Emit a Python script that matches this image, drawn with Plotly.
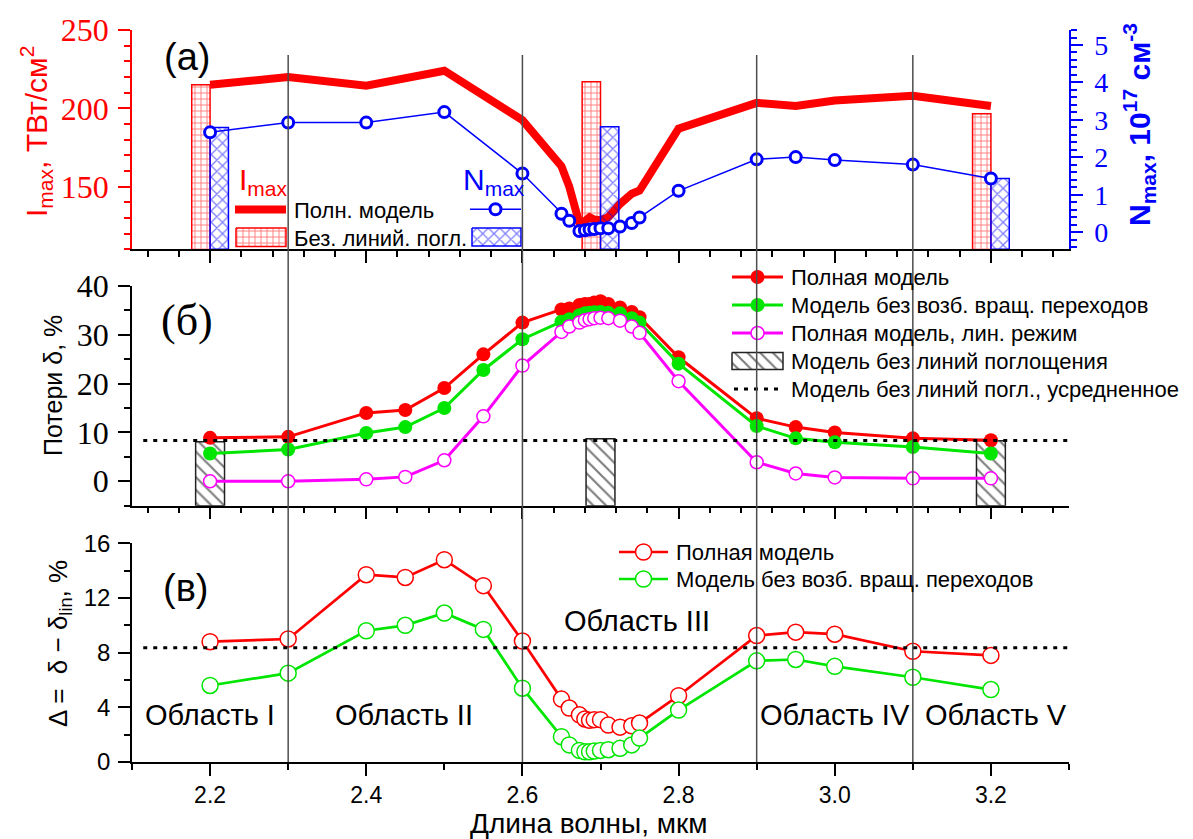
import plotly.graph_objects as go

# ======================= DATA =======================
# Panel (а): maximum intensity and maximum electron density
wl_a = [2.2, 2.3, 2.4, 2.5, 2.6, 2.65, 2.66, 2.673, 2.68, 2.686, 2.692,
        2.70, 2.71, 2.725, 2.74, 2.75, 2.8, 2.9, 2.95, 3.0, 3.1, 3.2]
i_max_full = [215, 220, 214.5, 224, 192.5, 163, 150, 126.5, 128, 130.5, 129,
              128.5, 130.5, 139, 145.5, 147.5, 187, 203.5, 201.5, 205, 208, 201.5]
n_max_full = [2.67, 2.93, 2.93, 3.21, 1.57, 0.50, 0.31, 0.04, 0.06, 0.08, 0.09,
              0.11, 0.11, 0.16, 0.25, 0.40, 1.11, 1.95, 2.01, 1.93, 1.81, 1.44]
wl_nolines = [2.2, 2.7, 3.2]
i_max_nolines = [215, 217, 196.5]
n_max_nolines = [2.80, 2.82, 1.44]

# Panel (б): losses delta, %
wl_b = [2.2, 2.3, 2.4, 2.45, 2.5, 2.55, 2.6, 2.65, 2.66, 2.673, 2.68, 2.686,
        2.692, 2.70, 2.71, 2.725, 2.74, 2.75, 2.8, 2.9, 2.95, 3.0, 3.1, 3.2]
loss_full = [8.9, 9.1, 14.0, 14.6, 19.1, 26.0, 32.5, 35.2, 35.4, 36.1, 36.3, 36.3,
             36.6, 36.9, 36.3, 35.6, 34.7, 33.6, 25.4, 12.9, 11.1, 10.0, 8.8, 8.4]
loss_norot = [5.7, 6.5, 9.9, 11.1, 15.0, 22.8, 29.1, 32.7, 33.2, 34.0, 34.4, 34.5,
              34.6, 34.7, 34.5, 34.4, 33.4, 32.5, 24.1, 11.3, 8.8, 8.0, 7.0, 5.7]
loss_lin = [0.0, 0.0, 0.4, 0.9, 4.3, 13.3, 23.7, 30.6, 31.7, 32.5, 33.0, 33.2,
            33.4, 33.5, 33.4, 32.9, 31.7, 30.4, 20.5, 3.9, 1.6, 0.8, 0.6, 0.6]
loss_nolines = [8.1, 8.7, 8.3]
loss_nolines_avg = 8.35

# Panel (в): Delta = delta - delta_lin, %
delta_full = [8.8, 9.0, 13.7, 13.5, 14.8, 12.9, 8.85, 4.6, 3.95, 3.45, 3.15, 3.05,
              3.1, 3.1, 2.7, 2.55, 2.65, 2.85, 4.85, 9.25, 9.5, 9.35, 8.1, 7.8]
delta_norot = [5.6, 6.5, 9.6, 10.0, 10.9, 9.7, 5.4, 1.85, 1.25, 0.85, 0.75, 0.75,
               0.8, 0.85, 0.9, 1.0, 1.25, 1.75, 3.8, 7.4, 7.5, 7.0, 6.2, 5.3]

region_bounds = [2.3, 2.6, 2.9, 3.1]
region_names = ["Область I", "Область II", "Область III", "Область IV", "Область V"]

# ======================= STYLE / LAYOUT =======================
SANS = "Liberation Sans"
SERIF = "Liberation Serif"
RED, BLUE, GREEN, MAG = "#ff0000", "#0000ff", "#00e600", "#ff00ff"

W, H = 1193, 839
ML, MR, MT, MB = 132, 124, 30, 77
PW, PH = W - ML - MR, H - MT - MB


def pxx(x):
    return (x - ML) / PW


def pxy(y):
    return (H - MB - y) / PH


I_RANGE = [110, 250]
N_RANGE = [-0.45, 5.4]
B_RANGE = [-5, 40]
C_RANGE = [0, 16]
BAR_W_A = 0.0235
BAR_W_B = 0.037

RED_GRID = dict(shape="+", fgcolor=RED, bgcolor="white", size=6, solidity=0.3)
BLUE_X = dict(shape="x", fgcolor=BLUE, bgcolor="rgba(0,0,0,0)", size=8, solidity=0.3)
BLACK_HATCH = dict(shape="\\", fgcolor="black", bgcolor="white", size=9, solidity=0.24)

fig = go.Figure()

# ---------- panel (а) ----------
fig.add_trace(go.Bar(
    x=wl_nolines, y=i_max_nolines, xaxis="x", yaxis="y",
    width=BAR_W_A, offset=-BAR_W_A,
    marker=dict(color="white", line=dict(color=RED, width=1.5), pattern=RED_GRID),
    showlegend=False))
fig.add_trace(go.Scatter(
    x=wl_a, y=i_max_full, xaxis="x", yaxis="y", mode="lines",
    line=dict(color=RED, width=8), showlegend=False))
fig.add_trace(go.Bar(
    x=wl_nolines, y=[v - N_RANGE[0] for v in n_max_nolines], base=N_RANGE[0],
    xaxis="x", yaxis="y2", width=BAR_W_A, offset=0,
    marker=dict(color="rgba(0,0,0,0)", line=dict(color=BLUE, width=1.5), pattern=BLUE_X),
    showlegend=False))
fig.add_trace(go.Scatter(
    x=wl_a, y=n_max_full, xaxis="x", yaxis="y2", mode="lines+markers",
    line=dict(color=BLUE, width=1.5),
    marker=dict(symbol="circle", size=11, color="white", line=dict(color=BLUE, width=3)),
    showlegend=False))

# ---------- panel (б) ----------
fig.add_trace(go.Bar(
    x=wl_nolines, y=[v - B_RANGE[0] for v in loss_nolines], base=B_RANGE[0],
    xaxis="x2", yaxis="y3", width=BAR_W_B,
    marker=dict(color="white", line=dict(color="#222222", width=1.5), pattern=BLACK_HATCH),
    showlegend=False))
fig.add_trace(go.Scatter(
    x=wl_b, y=loss_full, xaxis="x2", yaxis="y3", mode="lines+markers",
    line=dict(color=RED, width=3), marker=dict(symbol="circle", size=14, color=RED),
    showlegend=False))
fig.add_trace(go.Scatter(
    x=wl_b, y=loss_norot, xaxis="x2", yaxis="y3", mode="lines+markers",
    line=dict(color=GREEN, width=3), marker=dict(symbol="circle", size=14, color=GREEN),
    showlegend=False))
fig.add_trace(go.Scatter(
    x=wl_b, y=loss_lin, xaxis="x2", yaxis="y3", mode="lines+markers",
    line=dict(color=MAG, width=3),
    marker=dict(symbol="circle", size=13, color="white", line=dict(color=MAG, width=1.5)),
    showlegend=False))

# ---------- panel (в) ----------
fig.add_trace(go.Scatter(
    x=wl_b, y=delta_full, xaxis="x3", yaxis="y4", mode="lines+markers",
    line=dict(color=RED, width=2.7),
    marker=dict(symbol="circle", size=16, color="white", line=dict(color=RED, width=1.5)),
    showlegend=False))
fig.add_trace(go.Scatter(
    x=wl_b, y=delta_norot, xaxis="x3", yaxis="y4", mode="lines+markers",
    line=dict(color=GREEN, width=2.7),
    marker=dict(symbol="circle", size=16, color="white", line=dict(color=GREEN, width=1.5)),
    showlegend=False))

# ---------- legend swatches (drawn on a hidden pixel-space overlay axis) ----------
LEG = dict(xaxis="x4", yaxis="y5", showlegend=False, hoverinfo="skip")
annotations = []


def leg_line(x0, x1, y, color, width, dash=None):
    fig.add_trace(go.Scatter(x=[x0, x1], y=[y, y], mode="lines",
                             line=dict(color=color, width=width, dash=dash), **LEG))


def leg_marker(x, y, size, fill, edge, edgew):
    fig.add_trace(go.Scatter(x=[x], y=[y], mode="markers",
                             marker=dict(symbol="circle", size=size, color=fill,
                                         line=dict(color=edge, width=edgew)), **LEG))


def leg_box(x0, x1, y0, y1, pattern, edge, fill="white"):
    fig.add_trace(go.Scatter(x=[x0, x1, x1, x0, x0], y=[y0, y0, y1, y1, y0], mode="lines",
                             fill="toself", fillcolor=fill, fillpattern=pattern,
                             line=dict(color=edge, width=1.5), **LEG))


def leg_text(x, y, text, size=22, color="black", family=SANS):
    annotations.append(dict(x=x, y=y, xref="x4", yref="y5", text=text, showarrow=False,
                            xanchor="left", yanchor="middle",
                            font=dict(family=family, size=size, color=color)))


# panel (а) legend
leg_text(237, 181, "I<sub>max</sub>", size=30, color=RED)
leg_line(235, 286, 209.5, RED, 8)
leg_text(292, 210, "Полн. модель")
leg_box(236, 286, 228, 246.5, RED_GRID, RED)
leg_text(292, 238, "Без. линий. погл.")
leg_text(461, 181, "N<sub>max</sub>", size=30, color=BLUE)
leg_line(470, 521, 209.3, BLUE, 1.5)
leg_marker(495.5, 209.3, 11, "white", BLUE, 3)
leg_box(472, 521, 228, 246, dict(BLUE_X, bgcolor="white"), BLUE)

# panel (б) legend
rows_b = [277, 305, 333, 361, 389]
sx0, sx1, smid, stx = 732, 783, 757.5, 789
leg_line(sx0, sx1, rows_b[0], RED, 3)
leg_marker(smid, rows_b[0], 14, RED, RED, 0)
leg_text(stx, rows_b[0], "Полная модель")
leg_line(sx0, sx1, rows_b[1], GREEN, 3)
leg_marker(smid, rows_b[1], 14, GREEN, GREEN, 0)
leg_text(stx, rows_b[1], "Модель без возб. вращ. переходов")
leg_line(sx0, sx1, rows_b[2], MAG, 3)
leg_marker(smid, rows_b[2], 13, "white", MAG, 1.5)
leg_text(stx, rows_b[2], "Полная модель, лин. режим")
leg_box(sx0, sx1, rows_b[3] - 8.5, rows_b[3] + 8.5, BLACK_HATCH, "#222222")
leg_text(stx, rows_b[3], "Модель без линий поглощения")
leg_line(sx0 + 2, sx1, rows_b[4], "black", 3, dash="4px,6px")
leg_text(stx, rows_b[4], "Модель без линий погл., усредненное")

# panel (в) legend
rows_c = [552, 579]
cx0, cx1, cmid, ctx = 619, 668, 643.5, 674
leg_line(cx0, cx1, rows_c[0], RED, 2.7)
leg_marker(cmid, rows_c[0], 16, "white", RED, 1.5)
leg_text(ctx, rows_c[0], "Полная модель")
leg_line(cx0, cx1, rows_c[1], GREEN, 2.7)
leg_marker(cmid, rows_c[1], 16, "white", GREEN, 1.5)
leg_text(ctx, rows_c[1], "Модель без возб. вращ. переходов")

# ---------- texts ----------
def paper_text(xp, yp, text, size, color="black", family=SANS, angle=0):
    annotations.append(dict(x=pxx(xp), y=pxy(yp), xref="paper", yref="paper", text=text,
                            showarrow=False, xanchor="center", yanchor="middle",
                            textangle=angle, font=dict(family=family, size=size, color=color)))


paper_text(36, 132, "I<sub>max</sub>, ТВт/см<sup>2</sup>", 30, RED, angle=-90)
paper_text(1139, 125, "<b>N<sub>max</sub>, 10<sup>17</sup> см<sup>-3</sup></b>", 30, BLUE, angle=-90)
paper_text(53, 386, "Потери δ, %", 25, angle=-90)
paper_text(59, 644, "Δ =  δ − δ<sub>lin</sub>, %", 26, angle=-90)
paper_text(589, 823, "Длина волны, мкм", 28)
paper_text(187, 57, "(а)", 38)
paper_text(187, 320, "(б)", 44, family=SERIF)
paper_text(186, 588, "(в)", 38)

region_pos = [(2.2, 3.45), (2.448, 3.45), (2.747, 10.3), (3.0, 3.45), (3.207, 3.45)]
for name, (rx, ry) in zip(region_names, region_pos):
    annotations.append(dict(x=rx, y=ry, xref="x3", yref="y4", text=name, showarrow=False,
                            xanchor="center", yanchor="middle",
                            font=dict(family=SANS, size=29, color="black")))

# ---------- shapes ----------
shapes = []
for xb in region_bounds:
    shapes.append(dict(type="line", xref="x3", yref="paper", x0=xb, x1=xb, y0=0, y1=pxy(55),
                       line=dict(color="#4d4d4d", width=1.5), layer="above"))
for xr, yr in (("x2 domain", "y3"), ("x3 domain", "y4")):
    shapes.append(dict(type="line", xref=xr, yref=yr, x0=0.012, x1=1,
                       y0=loss_nolines_avg, y1=loss_nolines_avg,
                       line=dict(color="black", width=3, dash="4px,6px"), layer="above"))

# ---------- axes ----------
def xax(anchor, labels):
    d = dict(range=[2.1, 3.3], anchor=anchor, domain=[0, 1], showline=True, linecolor="black",
             linewidth=1.5, ticks="outside", ticklen=12, tickwidth=1.5, tickcolor="black",
             tick0=2.0, dtick=0.2, showgrid=False, zeroline=False, showticklabels=labels,
             minor=dict(ticks="outside", dtick=0.04, ticklen=6, tickwidth=1.5,
                        tickcolor="black", showgrid=False))
    if labels:
        d.update(tickformat=".1f", tickfont=dict(family=SANS, size=23, color="black"),
                 ticklabelstandoff=0)
        d["minor"]["dtick"] = 0.1
    return d


def yax(rng, dtick, mdtick, color, font, fsize, domain=None, standoff=3, **kw):
    d = dict(range=rng, showline=True, linecolor=color, linewidth=1.5, ticks="outside",
             ticklen=12, tickwidth=1.5, tickcolor=color, tick0=0, dtick=dtick,
             showgrid=False, zeroline=False,
             tickfont=dict(family=font, size=fsize, color=color), ticklabelstandoff=standoff,
             minor=dict(ticks="outside", dtick=mdtick, ticklen=6, tickwidth=1.5,
                        tickcolor=color, showgrid=False))
    if domain is not None:
        d["domain"] = domain
    d.update(kw)
    return d


fig.update_layout(
    width=W, height=H, margin=dict(l=ML, r=MR, t=MT, b=MB, autoexpand=False),
    paper_bgcolor="white", plot_bgcolor="rgba(0,0,0,0)",
    barmode="overlay", showlegend=False,
    xaxis=xax("y", False),
    xaxis2=xax("y3", False),
    xaxis3=xax("y4", True),
    yaxis=yax(I_RANGE, 50, 10, RED, SERIF, 32, domain=[pxy(249.3), 1], anchor="x"),
    yaxis2=yax(N_RANGE, 1, 0.2, BLUE, SERIF, 28, anchor="x", overlaying="y", side="right",
               standoff=6),
    yaxis3=yax(B_RANGE, 10, 5, "black", SERIF, 32, domain=[pxy(505.7), pxy(286)], anchor="x2"),
    yaxis4=yax(C_RANGE, 4, 2, "black", SANS, 24, domain=[0, pxy(543.3)], anchor="x3"),
    xaxis4=dict(domain=[0, 1], range=[ML, W - MR], visible=False, anchor="y5", fixedrange=True),
    yaxis5=dict(domain=[0, 1], range=[H - MB, MT], visible=False, anchor="x4", fixedrange=True),
    annotations=annotations,
    shapes=shapes,
)

fig.write_html("out.html")
